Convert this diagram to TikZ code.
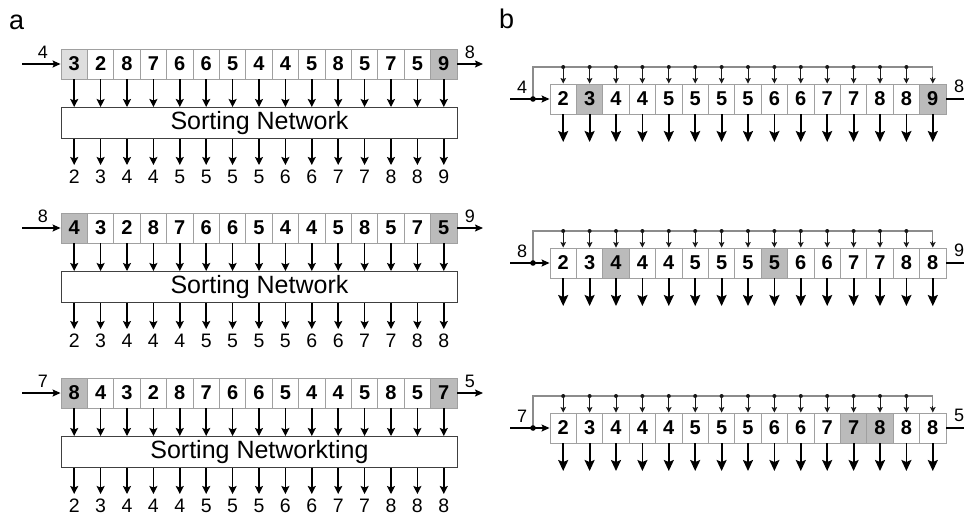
\documentclass[tikz,border=0pt]{standalone}
\usepackage{fontspec}
\setmainfont{Liberation Sans}
\usetikzlibrary{arrows.meta}
\definecolor{cellLight}{HTML}{DEDEDE}
\definecolor{cellGray}{HTML}{BBBBBB}
\definecolor{cellBorder}{HTML}{A0A0A0}
\definecolor{fbGray}{HTML}{8C8C8C}
\tikzset{
  cell/.style={draw=cellBorder, line width=0.9pt, minimum width=26.4pt, minimum height=30pt,
    inner sep=0pt, font=\fontsize{20}{20}\selectfont\bfseries},
  fw/.style={fill=white}, fl/.style={fill=cellLight}, fg/.style={fill=cellGray},
  sortbox/.style={draw=black!75, line width=0.9pt, fill=white, minimum width=396pt, minimum height=31pt,
    inner sep=0pt, anchor=north west, font=\fontsize{25}{25}\selectfont},
  outnum/.style={anchor=north, inner xsep=0pt, inner ysep=4.5pt, text height=14pt, text depth=0pt,
    font=\fontsize{19.5}{19.5}\selectfont},
  lab/.style={inner sep=0pt, font=\fontsize{18}{18}\selectfont},
  panel/.style={inner sep=0pt, anchor=base west, font=\fontsize{27}{27}\selectfont},
  darr/.style={line width=1.5pt, -{Stealth[length=8pt,width=8pt,inset=1.5pt]}},
  barr/.style={line width=1.8pt, -{Stealth[length=11pt,width=10pt,inset=2pt]}},
  harr/.style={line width=1.4pt, -{Stealth[length=8pt,width=7pt,inset=1.5pt]}},
  smarr/.style={line width=0.9pt, black!90, -{Stealth[length=5.5pt,width=5.5pt,inset=1pt]}},
  fb/.style={line width=1.2pt, fbGray},
}
% #1 name, #2 top y, #3 cells, #4 in, #5 out, #6 box text, #7 outputs
\newcommand\rowA[7]{%
  \foreach \d/\f [count=\i] in {#3} {
    \node[cell,f\f] (#1c\i) at ({61+(\i-0.5)*26.4},{#2+15}) {\d};
  }
  \node[sortbox] (#1s) at (61,{#2+58}) {#6};
  \foreach \i in {1,...,15} {
    \draw[darr] (#1c\i.south) -- (#1c\i.south |- #1s.north);
  }
  \foreach \d [count=\i] in {#7} {
    \node[outnum] (#1o\i) at ({61+(\i-0.5)*26.4},{#2+116}) {\d};
    \draw[darr] (#1c\i.south |- #1s.south) -- (#1o\i.north);
  }
  \coordinate (#1in) at (22,{#2+15});
  \draw[harr] (#1in) -- (#1c1.west);
  \node[lab] (#1inl) at (43,{#2+3}) {#4};
  \coordinate (#1out) at (483,{#2+15});
  \draw[harr] (#1c15.east) -- (#1out);
  \node[lab] (#1outl) at (470,{#2+3}) {#5};
}
% #1 name, #2 top y, #3 cells, #4 in, #5 out
\newcommand\rowB[5]{%
  \foreach \d/\f [count=\i] in {#3} {
    \node[cell,f\f] (#1c\i) at ({550+(\i-0.5)*26.4},{#2+15}) {\d};
  }
  \coordinate (#1fl) at (533,{#2+15});
  \coordinate (#1ft) at (533,{#2-17});
  \coordinate (#1fe) at ([yshift=7pt]#1c15.north);
  \draw[fb] (#1fl) -- (#1ft) -| (#1fe);
  \draw[smarr] (#1fe) -- (#1c15.north);
  \foreach \i in {1,...,14} {
    \coordinate (#1d\i) at ({550+(\i-0.5)*26.4},{#2-17});
    \fill[black!90] (#1d\i) circle (2pt);
    \draw[smarr] (#1d\i) -- (#1c\i.north);
  }
  \coordinate (#1in) at (510,{#2+15});
  \draw[harr] (#1in) -- (#1c1.west);
  \fill (#1fl) circle (2.8pt);
  \node[lab] (#1inl) at (522,{#2+3}) {#4};
  \coordinate (#1out) at (964,{#2+15});
  \draw[line width=1.4pt] (#1c15.east) -- (#1out);
  \node[lab] (#1outl) at (959,{#2+2}) {#5};
  \foreach \i in {1,...,15} {
    \coordinate (#1b\i) at ({550+(\i-0.5)*26.4},{#2+58});
    \draw[barr] (#1c\i.south) -- (#1b\i);
  }
}
\begin{document}
\begin{tikzpicture}[x=1pt,y=-1pt]
\fill[white] (0,0) rectangle (964,515);
\useasboundingbox (0,0) rectangle (964,515);
\node[panel] (pa) at (9,29) {a};
\node[panel] (pb) at (499,28) {b};
\rowA{A}{49}{3/l,2/w,8/w,7/w,6/w,6/w,5/w,4/w,4/w,5/w,8/w,5/w,7/w,5/w,9/g}{4}{8}{Sorting Network}{2,3,4,4,5,5,5,5,6,6,7,7,8,8,9}
\rowA{B}{213}{4/g,3/w,2/w,8/w,7/w,6/w,6/w,5/w,4/w,4/w,5/w,8/w,5/w,7/w,5/g}{8}{9}{Sorting Network}{2,3,4,4,4,5,5,5,5,6,6,7,7,8,8}
\rowA{C}{378}{8/g,4/w,3/w,2/w,8/w,7/w,6/w,6/w,5/w,4/w,4/w,5/w,8/w,5/w,7/g}{7}{5}{Sorting Networkting}{2,3,4,4,4,5,5,5,6,6,7,7,8,8,8}
\rowB{D}{84}{2/w,3/g,4/w,4/w,5/w,5/w,5/w,5/w,6/w,6/w,7/w,7/w,8/w,8/w,9/g}{4}{8}
\rowB{E}{248}{2/w,3/w,4/g,4/w,4/w,5/w,5/w,5/w,5/g,6/w,6/w,7/w,7/w,8/w,8/w}{8}{9}
\rowB{F}{413}{2/w,3/w,4/w,4/w,4/w,5/w,5/w,5/w,6/w,6/w,7/w,7/g,8/g,8/w,8/w}{7}{5}
\end{tikzpicture}
\end{document}
